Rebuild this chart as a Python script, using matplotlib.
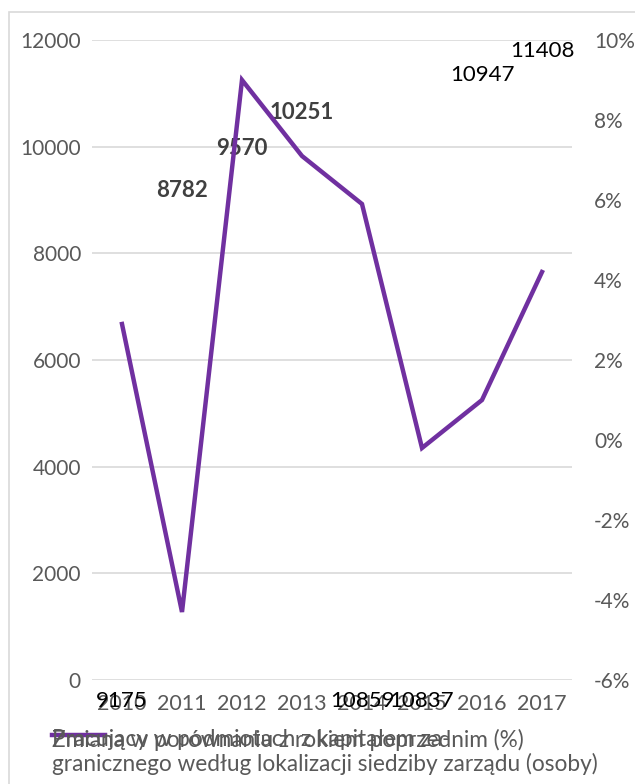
import matplotlib
matplotlib.use("Agg")
import matplotlib.pyplot as plt
from matplotlib.patches import Rectangle
from matplotlib.lines import Line2D

plt.rcParams['font.family'] = ['Lato', 'DejaVu Sans']

years = ['2010', '2011', '2012', '2013', '2014', '2015', '2016', '2017']
workers = [9175, 8782, 9570, 10251, 10859, 10837, 10947, 11408]
change_pct = [2.9, -4.3, 9.0, 7.1, 5.9, -0.2, 1.0, 4.2]
# which data labels Excel drew in bold, and which ended up below the axis
label_bold = [False, True, True, True, False, False, False, False]
label_at_bottom = [True, False, False, False, True, True, False, False]

line_label = 'Zmiana w porównaniu z rokiem poprzednim (%)'
bar_label_1 = 'Pracujący w podmiotach z kapitałem za-'
bar_label_2 = 'granicznego według lokalizacji siedziby zarządu (osoby)'

grey = '#595959'
purple = '#7030A0'

fig = plt.figure(figsize=(6.35, 7.84), dpi=100)
fig.patches.append(Rectangle((9 / 635, -0.1), 1.2, 1 - 12 / 784 + 0.1,
                             transform=fig.transFigure, fill=False,
                             edgecolor='#D9D9D9', linewidth=1.2))

ax = fig.add_axes([92 / 635, 1 - 680 / 784, 480 / 635, 640 / 784])
x = list(range(len(years)))

# invisible bars carry the head-count series
bars = ax.bar(x, workers, width=0.5, color='none', edgecolor='none')
ax.set_ylim(0, 12000)
ax.set_xlim(-0.5, len(years) - 0.5)
ax.set_yticks(range(0, 12001, 2000))
ax.yaxis.grid(True, color='#D9D9D9', linewidth=1.2)
ax.set_axisbelow(True)
for s in ax.spines.values():
    s.set_visible(False)
ax.tick_params(axis='both', length=0, labelsize=15, colors=grey, pad=8)
ax.tick_params(axis='x', labelsize=15.5, pad=10)
ax.set_xticks(x)
ax.set_xticklabels(years)

for xi, val, bold, bottom in zip(x, workers, label_bold, label_at_bottom):
    if bottom:
        ax.annotate(str(val), (xi, 0), xytext=(0, -15), textcoords='offset points',
                    ha='center', va='center', fontsize=16, color='black')
    elif bold:
        ax.annotate(str(val), (xi, val), xytext=(0, 15), textcoords='offset points',
                    ha='center', va='center', fontsize=16, color='#404040',
                    fontweight='bold')
    else:
        ax.annotate(str(val), (xi, val), xytext=(0, 15), textcoords='offset points',
                    ha='center', va='center', fontsize=16, color='black')

ax2 = ax.twinx()
ax2.plot(x, change_pct, color=purple, linewidth=3.2, solid_joinstyle='miter')
ax2.set_ylim(-6, 10)
ax2.set_yticks(range(-6, 11, 2))
ax2.set_yticklabels([f'{v}%' for v in range(-6, 11, 2)])
for s in ax2.spines.values():
    s.set_visible(False)
ax2.tick_params(axis='y', length=0, labelsize=15, colors=grey, pad=16)

# broken Excel legend: handle and two entries drawn over each other
fig.add_artist(Line2D([52 / 635, 105 / 635], [1 - 735 / 784] * 2,
                      color=purple, linewidth=3.2, transform=fig.transFigure))
fig.text(52 / 635, 1 - 740 / 784, line_label, fontsize=16.3, color=grey,
         ha='left', va='center')
fig.text(52 / 635, 1 - 740 / 784, bar_label_1, fontsize=16.3, color=grey,
         ha='left', va='center')
fig.text(52 / 635, 1 - 764 / 784, bar_label_2, fontsize=16.3, color=grey,
         ha='left', va='center')

fig.savefig('out.png', dpi=100)
